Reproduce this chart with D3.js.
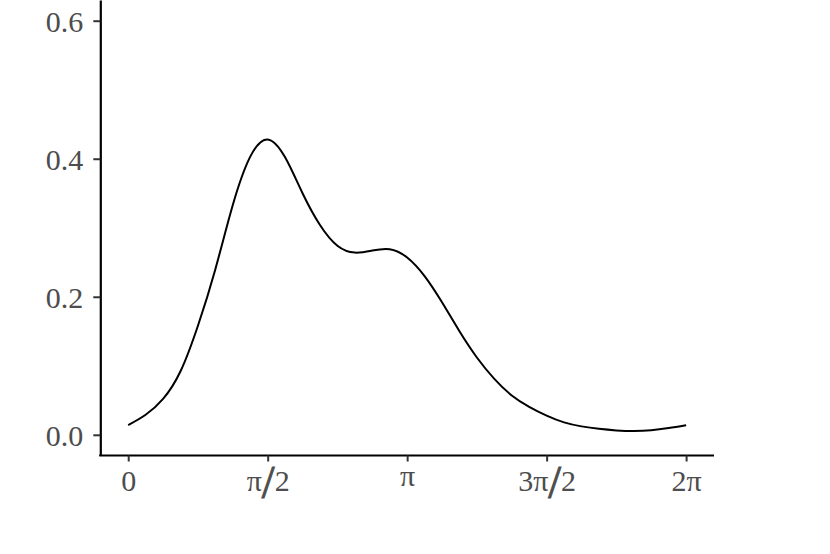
<!DOCTYPE html>
<html>
  <head>
    <meta charset="utf-8">
    <script src="https://d3js.org/d3.v7.min.js"></script>
    <style>
      body { margin: 0; background: #fff; }
      .axis text { font-family: "Liberation Serif", serif; font-size: 30px; fill: #4d4d4d; }
      .axis .tick line { stroke: #333; stroke-width: 2; }
      .axis path.domain { stroke: #000; stroke-width: 2.2; }
    </style>
  </head>
  <body>
    <div id="vis"></div>
    <script>

      // angle in units of pi, density
      var angle = [0, 0.0625, 0.125, 0.1875, 0.25, 0.3125, 0.375, 0.4375, 0.5, 0.5625, 0.625,
                   0.6875, 0.75, 0.8125, 0.875, 0.9375, 1, 1.0625, 1.125, 1.1875, 1.25, 1.3125,
                   1.375, 1.4375, 1.5, 1.5625, 1.625, 1.6875, 1.75, 1.8125, 1.875, 1.9375, 2];
      var density = [0.0140, 0.029, 0.052, 0.092, 0.158, 0.240, 0.333, 0.403, 0.428, 0.402, 0.350,
                     0.304, 0.274, 0.264, 0.267, 0.269, 0.257, 0.230, 0.192, 0.150, 0.112, 0.081,
                     0.057, 0.0405, 0.0278, 0.018, 0.0122, 0.0086, 0.0064, 0.0056, 0.0066, 0.0098, 0.0140];

      var xTicks = [0, 0.5, 1, 1.5, 2];
      var xLabels = ["0", "π/2", "π", "3π/2", "2π"];
      var yTicks = [0, 0.2, 0.4, 0.6];

      var width = 830, height = 554;
      var svg = d3.select("#vis").append("svg")
        .attr("width", width)
        .attr("height", height);

      var x = d3.scaleLinear().domain([-0.1, 2.1]).range([100.3, 714]);
      var y = d3.scaleLinear().domain([-0.03, 0.63]).range([455.5, 0]);

      var line = d3.line()
        .x(function(d) { return x(d[0]); })
        .y(function(d) { return y(d[1]); })
        .curve(d3.curveNatural);

      svg.append("path")
        .datum(d3.zip(angle, density))
        .attr("fill", "none")
        .attr("stroke", "#000")
        .attr("stroke-width", 2)
        .attr("d", line);

      // y axis
      var yAxis = d3.axisLeft(y)
        .tickValues(yTicks)
        .tickFormat(d3.format(".1f"))
        .tickSize(7)
        .tickSizeOuter(0)
        .tickPadding(10);

      svg.append("g")
        .attr("class", "y axis")
        .attr("transform", "translate(100.3,0)")
        .call(yAxis)
        .selectAll(".tick text")
        .attr("dy", "0.36em");

      // x axis
      var xAxis = d3.axisBottom(x)
        .tickValues(xTicks)
        .tickFormat(function(d, i) { return xLabels[i]; })
        .tickSize(6)
        .tickSizeOuter(0);

      var gx = svg.append("g")
        .attr("class", "x axis")
        .attr("transform", "translate(0,455.5)")
        .call(xAxis);

      gx.select("path.domain").attr("d", "M99.2,0H714");

      // labels are top aligned (like ggplot vjust = 1), measure glyph ascent
      var ctx = document.createElement("canvas").getContext("2d");
      ctx.font = '30px "Liberation Serif"';
      var labelTop = 472 - 455.5;

      gx.selectAll(".tick text").each(function(d, i) {
        var label = xLabels[i];
        var asc = ctx.measureText(label.replace("/", "")).actualBoundingBoxAscent;
        var t = d3.select(this).text(null)
          .attr("dy", null)
          .attr("y", labelTop + asc);
        var parts = label.split("/");
        t.append("tspan").text(parts[0]);
        if (parts.length > 1) {
          t.append("tspan")
            .attr("dy", 7)
            .style("font-size", "46px")
            .style("stroke", "#4d4d4d")
            .style("stroke-width", 0.9)
            .text("/");
          t.append("tspan").attr("dy", -7).text(parts[1]);
        }
      });

    </script>
  </body>
</html>
